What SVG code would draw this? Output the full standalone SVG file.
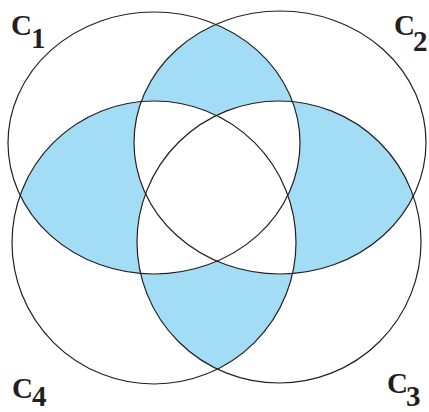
<svg xmlns="http://www.w3.org/2000/svg" width="429" height="412" viewBox="0 0 429 412">
<style>
.ring{fill:none;stroke:#231f20;stroke-width:1.2}
.shade{fill:#a3dcf5}
.lbl{font-family:"Liberation Serif","Times New Roman",serif;font-weight:bold;fill:#231f20}
.c{font-size:29px}
.d{font-size:29px}
</style>
<defs>
<clipPath id="k1"><ellipse cx="154" cy="143" rx="146" ry="131"/></clipPath>
<clipPath id="k2"><ellipse cx="280" cy="142.5" rx="146" ry="131.5"/></clipPath>
<clipPath id="k3"><ellipse cx="279" cy="242" rx="142" ry="141"/></clipPath>
<clipPath id="k4"><ellipse cx="154" cy="242.5" rx="142" ry="141.5"/></clipPath>
<mask id="m34" maskUnits="userSpaceOnUse" x="0" y="0" width="429" height="412"><rect width="429" height="412" fill="#fff"/><ellipse cx="279" cy="242" rx="142" ry="141" fill="#000"/><ellipse cx="154" cy="242.5" rx="142" ry="141.5" fill="#000"/></mask>
<mask id="m23" maskUnits="userSpaceOnUse" x="0" y="0" width="429" height="412"><rect width="429" height="412" fill="#fff"/><ellipse cx="280" cy="142.5" rx="146" ry="131.5" fill="#000"/><ellipse cx="279" cy="242" rx="142" ry="141" fill="#000"/></mask>
<mask id="m14" maskUnits="userSpaceOnUse" x="0" y="0" width="429" height="412"><rect width="429" height="412" fill="#fff"/><ellipse cx="154" cy="143" rx="146" ry="131" fill="#000"/><ellipse cx="154" cy="242.5" rx="142" ry="141.5" fill="#000"/></mask>
<mask id="m12" maskUnits="userSpaceOnUse" x="0" y="0" width="429" height="412"><rect width="429" height="412" fill="#fff"/><ellipse cx="154" cy="143" rx="146" ry="131" fill="#000"/><ellipse cx="280" cy="142.5" rx="146" ry="131.5" fill="#000"/></mask>
</defs>
<g id="regions">
<g mask="url(#m34)"><ellipse class="shade" clip-path="url(#k2)" cx="154" cy="143" rx="146" ry="131"/></g>
<g mask="url(#m23)"><ellipse class="shade" clip-path="url(#k4)" cx="154" cy="143" rx="146" ry="131"/></g>
<g mask="url(#m14)"><ellipse class="shade" clip-path="url(#k3)" cx="280" cy="142.5" rx="146" ry="131.5"/></g>
<g mask="url(#m12)"><ellipse class="shade" clip-path="url(#k4)" cx="279" cy="242" rx="142" ry="141"/></g>
</g>
<g id="C1"><ellipse class="ring" cx="154" cy="143" rx="146" ry="131"/><text class="lbl" x="11" y="35"><tspan class="c">C</tspan><tspan class="d" x="31" y="48">1</tspan></text></g>
<g id="C2"><ellipse class="ring" cx="280" cy="142.5" rx="146" ry="131.5"/><text class="lbl" x="394" y="35"><tspan class="c">C</tspan><tspan class="d" x="413" y="51">2</tspan></text></g>
<g id="C3"><ellipse class="ring" cx="279" cy="242" rx="142" ry="141"/><text class="lbl" x="387" y="393"><tspan class="c">C</tspan><tspan class="d" x="406" y="406">3</tspan></text></g>
<g id="C4"><ellipse class="ring" cx="154" cy="242.5" rx="142" ry="141.5"/><text class="lbl" x="12" y="398"><tspan class="c">C</tspan><tspan class="d" x="32" y="406">4</tspan></text></g>
<g id="connectors"/>
</svg>
